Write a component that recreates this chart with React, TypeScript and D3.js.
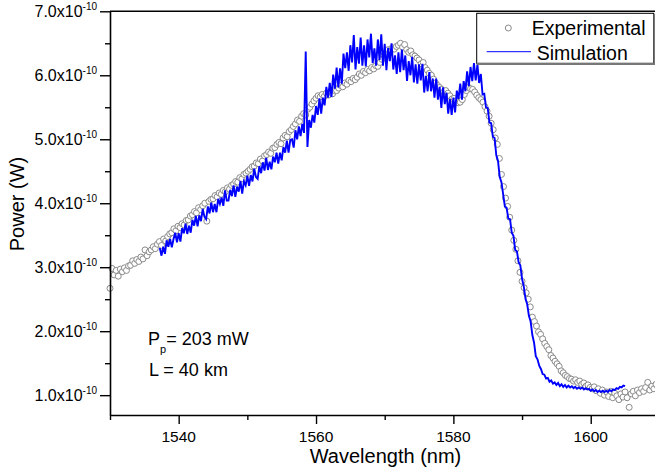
import React, { useEffect, useRef } from 'react';
import * as d3 from 'd3';

// simulation: sampled every 0.25 nm from 1537.25 nm, power in 1e-10 W
const simStart = 1537.25;
const simStep = 0.25;
const simPower = [
  3.30, 3.18, 3.32, 3.21, 3.42, 3.32, 3.44, 3.31, 3.44, 3.54,
  3.39, 3.53, 3.40, 3.61, 3.53, 3.68, 3.52, 3.65, 3.54, 3.74,
  3.65, 3.80, 3.64, 3.81, 3.72, 3.91, 3.79, 3.75, 3.95, 3.84,
  4.01, 3.86, 3.99, 3.86, 4.07, 3.99, 4.09, 3.96, 4.20, 4.04,
  4.04, 4.21, 4.11, 4.28, 4.10, 4.26, 4.18, 4.35, 4.15, 4.34,
  4.28, 4.43, 4.27, 4.44, 4.34, 4.54, 4.41, 4.38, 4.58, 4.47,
  4.64, 4.51, 4.71, 4.52, 4.65, 4.53, 4.73, 4.64, 4.79, 4.62,
  4.79, 4.67, 4.88, 4.79, 4.98, 4.79, 4.99, 5.00, 4.87, 5.14,
  5.00, 5.20, 5.05, 5.24, 5.10, 6.37, 4.88, 5.30, 5.18, 5.38,
  5.26, 5.52, 5.38, 5.64, 5.40, 5.65, 5.53, 5.82, 5.65, 5.88,
  5.66, 6.01, 5.79, 6.12, 5.81, 6.11, 5.87, 6.34, 6.11, 6.36,
  6.07, 6.47, 6.20, 6.63, 6.09, 6.44, 6.18, 6.59, 6.15, 6.47,
  6.14, 6.56, 6.28, 6.65, 6.19, 6.42, 6.15, 6.56, 6.24, 6.64,
  6.15, 6.49, 6.08, 6.43, 6.22, 6.50, 6.09, 6.31, 6.02, 6.36,
  6.05, 6.40, 6.08, 6.31, 5.91, 6.22, 6.00, 6.29, 5.89, 6.17,
  5.87, 6.17, 5.92, 6.18, 5.73, 5.99, 5.75, 6.05, 5.75, 5.95,
  5.65, 5.95, 5.62, 5.82, 5.49, 5.81, 5.55, 5.73, 5.40, 5.63,
  5.38, 5.65, 5.42, 5.76, 5.63, 5.87, 5.62, 5.91, 5.75, 6.06,
  5.83, 6.13, 5.91, 6.19, 5.92, 6.17, 5.88, 6.02, 5.70, 5.71,
  5.50, 5.49, 5.26, 5.25, 5.04, 5.02, 4.75, 4.66, 4.41, 4.33,
  4.14, 3.95, 3.93, 3.76, 3.75, 3.54, 3.49, 3.27, 3.25, 3.08,
  3.03, 2.82, 2.70, 2.51, 2.42, 2.24, 2.15, 1.94, 1.82, 1.61,
  1.56, 1.46, 1.41, 1.33, 1.32, 1.26, 1.27, 1.21, 1.23, 1.18,
  1.20, 1.16, 1.19, 1.14, 1.17, 1.13, 1.16, 1.12, 1.15, 1.12,
  1.14, 1.11, 1.13, 1.10, 1.12, 1.10, 1.12, 1.09, 1.11, 1.09,
  1.10, 1.07, 1.09, 1.06, 1.08, 1.05, 1.07, 1.05, 1.07, 1.05,
  1.07, 1.05, 1.08, 1.06, 1.09, 1.08, 1.11, 1.10, 1.13, 1.12,
  1.15, 1.14,
];

// experimental: sampled every 0.3 nm from 1530 nm
const expStart = 1530;
const expStep = 0.3;
const expPower = [
  2.67, 2.98, 2.88, 2.95, 2.86, 2.97, 2.93, 2.99, 2.95, 3.02,
  3.03, 3.10, 3.06, 3.12, 3.09, 3.16, 3.13, 3.27, 3.18, 3.24,
  3.27, 3.32, 3.29, 3.36, 3.40, 3.34, 3.44, 3.41, 3.48, 3.52,
  3.54, 3.60, 3.57, 3.64, 3.62, 3.68, 3.66, 3.73, 3.74, 3.80,
  3.82, 3.87, 3.85, 3.93, 3.90, 3.96, 4.00, 3.72, 4.03, 4.06,
  4.07, 4.12, 4.10, 4.16, 4.14, 4.20, 4.18, 4.24, 4.22, 4.28,
  4.30, 4.34, 4.33, 4.40, 4.38, 4.45, 4.47, 4.50, 4.53, 4.57,
  4.58, 4.63, 4.62, 4.69, 4.66, 4.74, 4.76, 4.80, 4.78, 4.86,
  4.87, 4.92, 4.95, 4.93, 5.02, 5.06, 5.04, 5.12, 5.15, 5.20,
  5.24, 5.30, 5.28, 5.36, 5.40, 5.38, 5.47, 5.50, 5.55, 5.60,
  5.64, 5.68, 5.66, 5.70, 5.67, 5.72, 5.69, 5.74, 5.71, 5.76,
  5.76, 5.80, 5.84, 5.82, 5.88, 5.86, 5.92, 5.90, 5.95, 5.93,
  5.97, 6.02, 6.00, 6.06, 6.04, 6.09, 6.07, 6.12, 6.10, 6.15,
  6.14, 6.20, 6.25, 6.31, 6.36, 6.40, 6.38, 6.43, 6.41, 6.45,
  6.47, 6.50, 6.44, 6.48, 6.40, 6.36, 6.38, 6.32, 6.30, 6.27,
  6.24, 6.18, 6.20, 6.12, 6.08, 6.03, 6.00, 5.94, 5.88, 5.84,
  5.81, 5.78, 5.74, 5.76, 5.72, 5.68, 5.63, 5.64, 5.60, 5.57,
  5.58, 5.62, 5.70, 5.76, 5.81, 5.79, 5.78, 5.74, 5.69, 5.65,
  5.62, 5.58, 5.51, 5.44, 5.36, 5.25, 5.15, 5.02, 4.92, 4.70,
  4.45, 4.26, 4.08, 3.95, 3.78, 3.58, 3.42, 3.28, 3.10, 2.92,
  2.78, 2.68, 2.60, 2.50, 2.38, 2.22, 2.15, 2.08, 1.99, 1.95,
  1.88, 1.81, 1.76, 1.71, 1.62, 1.58, 1.53, 1.49, 1.45, 1.38,
  1.35, 1.31, 1.29, 1.26, 1.25, 1.22, 1.24, 1.20, 1.22, 1.17,
  1.19, 1.14, 1.16, 1.12, 1.10, 1.13, 1.07, 1.10, 1.03, 1.08,
  1.00, 1.05, 0.98, 1.06, 0.96, 1.03, 0.99, 0.93, 1.02, 0.97,
  1.05, 0.96, 0.81, 1.02, 1.06, 0.99, 1.08, 1.04, 1.10, 1.06,
  1.12, 1.20, 1.08, 1.14, 1.10, 1.17, 1.12,
];

const xTicks = [1540, 1560, 1580, 1600];
const xMinorTicks = [1530, 1550, 1570, 1590, 1610];
const yTicks = [1, 2, 3, 4, 5, 6, 7];
const yMinorTicks = [1.5, 2.5, 3.5, 4.5, 5.5, 6.5];
const legendLabels = ['Experimental', 'Simulation'];

const FONT = '"Liberation Sans", Arial, sans-serif';

const App = () => {
  const svgRef = useRef(null);

  useEffect(() => {
    const svg = d3.select(svgRef.current);
    svg.selectAll('*').remove();
    svg.style('font-family', FONT);

    const x = d3.scaleLinear().domain([1530, 1610]).range([110, 659.4]);
    const y = d3.scaleLinear().domain([0.69, 7.0]).range([415, 11.3]);

    const sim = simPower.map((v, i) => ({ w: simStart + i * simStep, v }));
    const exp = expPower.map((v, i) => ({ w: expStart + i * expStep, v }));

    // experimental circles
    svg.append('g')
      .selectAll('circle')
      .data(exp)
      .enter()
      .append('circle')
      .attr('cx', (d) => x(d.w))
      .attr('cy', (d) => y(d.v))
      .attr('r', 3)
      .attr('fill', 'white')
      .attr('stroke', '#8a8a8a')
      .attr('stroke-width', 1);

    // simulation line
    const line = d3.line().x((d) => x(d.w)).y((d) => y(d.v));
    svg.append('path')
      .datum(sim)
      .attr('d', line)
      .attr('fill', 'none')
      .attr('stroke', '#0000ff')
      .attr('stroke-width', 1.9)
      .attr('stroke-linejoin', 'miter');

    // axes
    const xAxis = svg.append('g').attr('transform', 'translate(0,415)');
    xAxis.call(d3.axisBottom(x).tickValues(xTicks).tickSize(9).tickSizeOuter(0).tickFormat(() => ''));
    const xMinor = svg.append('g').attr('transform', 'translate(0,415)');
    xMinor.call(d3.axisBottom(x).tickValues(xMinorTicks).tickSize(5).tickSizeOuter(0).tickFormat(() => ''));
    xMinor.select('.domain').remove();

    const yAxis = svg.append('g').attr('transform', 'translate(110,0)');
    yAxis.call(d3.axisLeft(y).tickValues(yTicks).tickSize(10).tickSizeOuter(0).tickFormat(() => ''));
    const yMinor = svg.append('g').attr('transform', 'translate(110,0)');
    yMinor.call(d3.axisLeft(y).tickValues(yMinorTicks).tickSize(5).tickSizeOuter(0).tickFormat(() => ''));
    yMinor.select('.domain').remove();

    svg.selectAll('.domain').attr('stroke', '#000').attr('stroke-width', 1.6);
    svg.selectAll('.tick line').attr('stroke', '#000').attr('stroke-width', 1.4);

    // top frame
    svg.append('line')
      .attr('x1', 110).attr('x2', 659.4)
      .attr('y1', y(7)).attr('y2', y(7))
      .attr('stroke', '#000').attr('stroke-width', 1.6);

    // x tick labels
    svg.append('g')
      .selectAll('text')
      .data(xTicks)
      .enter()
      .append('text')
      .attr('x', (d) => x(d))
      .attr('y', 442)
      .attr('text-anchor', 'middle')
      .attr('font-size', 15.5)
      .text((d) => d);

    // y tick labels with superscript exponent
    const yl = svg.append('g')
      .selectAll('text')
      .data(yTicks)
      .enter()
      .append('text')
      .attr('x', 97)
      .attr('y', (d) => y(d) + 6)
      .attr('text-anchor', 'end')
      .attr('font-size', 16);
    yl.append('tspan').text((d) => `${d.toFixed(1)}x10`);
    yl.append('tspan').attr('dy', -7.5).attr('font-size', 10).text('-10');

    // axis titles
    svg.append('text')
      .attr('x', 385.5)
      .attr('y', 463)
      .attr('text-anchor', 'middle')
      .attr('font-size', 20)
      .text('Wavelength (nm)');
    svg.append('text')
      .attr('transform', 'translate(24,204) rotate(-90)')
      .attr('text-anchor', 'middle')
      .attr('font-size', 20)
      .text('Power (W)');

    // annotation
    const ann = svg.append('text').attr('x', 148).attr('y', 345).attr('font-size', 18);
    ann.append('tspan').text('P');
    ann.append('tspan').attr('dy', 8).attr('font-size', 11).text('p');
    ann.append('tspan').attr('dy', -8).text('= 203 mW');
    svg.append('text')
      .attr('x', 149)
      .attr('y', 375.7)
      .attr('font-size', 18)
      .text('L = 40 km');

    // legend
    const lg = svg.append('g');
    lg.append('rect')
      .attr('x', 476.7).attr('y', 13.3)
      .attr('width', 177).attr('height', 50)
      .attr('fill', 'white').attr('stroke', '#000').attr('stroke-width', 1);
    lg.append('line')
      .attr('x1', 477).attr('x2', 655).attr('y1', 64).attr('y2', 64)
      .attr('stroke', '#777').attr('stroke-width', 2);
    lg.append('line')
      .attr('x1', 654.5).attr('x2', 654.5).attr('y1', 14).attr('y2', 65)
      .attr('stroke', '#777').attr('stroke-width', 2);
    lg.append('circle')
      .attr('cx', 508.3).attr('cy', 28).attr('r', 3)
      .attr('fill', 'white').attr('stroke', '#8a8a8a');
    lg.append('text')
      .attr('x', 531.7).attr('y', 35).attr('font-size', 19.5)
      .text(legendLabels[0]);
    lg.append('line')
      .attr('x1', 486.7).attr('x2', 531).attr('y1', 51.7).attr('y2', 51.7)
      .attr('stroke', '#0000ff').attr('stroke-width', 1);
    lg.append('text')
      .attr('x', 536.7).attr('y', 60).attr('font-size', 19.5)
      .text(legendLabels[1]);
  }, []);

  return (
    <div style={{ position: 'absolute', left: 0, top: 0 }}>
      <svg ref={svgRef} width={655} height={472}></svg>
    </div>
  );
};

export default App;
